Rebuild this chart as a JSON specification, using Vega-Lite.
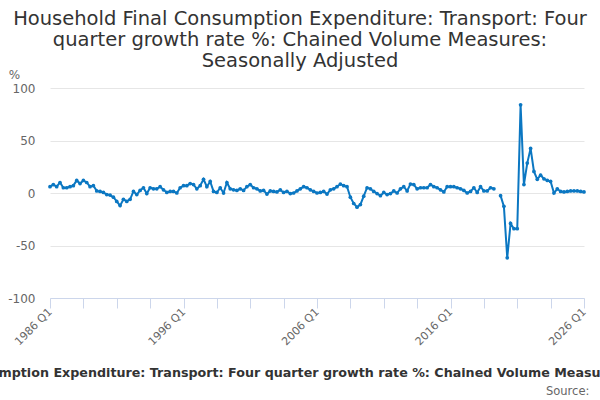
{
  "$schema": "https://vega.github.io/schema/vega-lite/v6.json",
  "width": 534,
  "height": 210,
  "autosize": {"type": "none"},
  "padding": {"left": 50, "top": 88, "right": 16, "bottom": 102},
  "background": "white",
  "title": {
    "text": [
      "Household Final Consumption Expenditure: Transport: Four",
      "quarter growth rate %: Chained Volume Measures:",
      "Seasonally Adjusted"
    ],
    "anchor": "middle",
    "frame": "group",
    "dx": -17,
    "fontSize": 19.5,
    "fontWeight": "normal",
    "color": "#333333",
    "lineHeight": 21,
    "offset": -3
  },
  "config": {
    "font": "DejaVu Sans",
    "view": {"stroke": "transparent"}
  },
  "data": {
    "values": [
      {"q": "1986 Q1", "v": 6}, {"q": "1986 Q2", "v": 8}, {"q": "1986 Q3", "v": 6}, {"q": "1986 Q4", "v": 10},
      {"q": "1987 Q1", "v": 5}, {"q": "1987 Q2", "v": 5}, {"q": "1987 Q3", "v": 6}, {"q": "1987 Q4", "v": 7},
      {"q": "1988 Q1", "v": 12}, {"q": "1988 Q2", "v": 9}, {"q": "1988 Q3", "v": 12}, {"q": "1988 Q4", "v": 10},
      {"q": "1989 Q1", "v": 6}, {"q": "1989 Q2", "v": 7}, {"q": "1989 Q3", "v": 2}, {"q": "1989 Q4", "v": 1.5},
      {"q": "1990 Q1", "v": 0.5}, {"q": "1990 Q2", "v": -1.5}, {"q": "1990 Q3", "v": -2}, {"q": "1990 Q4", "v": -4},
      {"q": "1991 Q1", "v": -8}, {"q": "1991 Q2", "v": -12}, {"q": "1991 Q3", "v": -6}, {"q": "1991 Q4", "v": -8},
      {"q": "1992 Q1", "v": -6}, {"q": "1992 Q2", "v": 1.5}, {"q": "1992 Q3", "v": -1.5}, {"q": "1992 Q4", "v": 2.5},
      {"q": "1993 Q1", "v": 5}, {"q": "1993 Q2", "v": -0.5}, {"q": "1993 Q3", "v": 5}, {"q": "1993 Q4", "v": 4},
      {"q": "1994 Q1", "v": 4}, {"q": "1994 Q2", "v": 6}, {"q": "1994 Q3", "v": 3}, {"q": "1994 Q4", "v": 0.5},
      {"q": "1995 Q1", "v": 1.5}, {"q": "1995 Q2", "v": 1.5}, {"q": "1995 Q3", "v": 0}, {"q": "1995 Q4", "v": 5},
      {"q": "1996 Q1", "v": 7}, {"q": "1996 Q2", "v": 7}, {"q": "1996 Q3", "v": 9}, {"q": "1996 Q4", "v": 8},
      {"q": "1997 Q1", "v": 4}, {"q": "1997 Q2", "v": 7}, {"q": "1997 Q3", "v": 13}, {"q": "1997 Q4", "v": 6},
      {"q": "1998 Q1", "v": 11}, {"q": "1998 Q2", "v": 1.5}, {"q": "1998 Q3", "v": 0.5}, {"q": "1998 Q4", "v": 5},
      {"q": "1999 Q1", "v": 0}, {"q": "1999 Q2", "v": 10}, {"q": "1999 Q3", "v": 4}, {"q": "1999 Q4", "v": 3},
      {"q": "2000 Q1", "v": 2.5}, {"q": "2000 Q2", "v": 4}, {"q": "2000 Q3", "v": 2.5}, {"q": "2000 Q4", "v": 6},
      {"q": "2001 Q1", "v": 8}, {"q": "2001 Q2", "v": 5}, {"q": "2001 Q3", "v": 4}, {"q": "2001 Q4", "v": 2},
      {"q": "2002 Q1", "v": 2.5}, {"q": "2002 Q2", "v": -1}, {"q": "2002 Q3", "v": 2}, {"q": "2002 Q4", "v": 1.5},
      {"q": "2003 Q1", "v": 1}, {"q": "2003 Q2", "v": 3}, {"q": "2003 Q3", "v": 0.5}, {"q": "2003 Q4", "v": 1.5},
      {"q": "2004 Q1", "v": -0.5}, {"q": "2004 Q2", "v": 0}, {"q": "2004 Q3", "v": 2}, {"q": "2004 Q4", "v": 4},
      {"q": "2005 Q1", "v": 6}, {"q": "2005 Q2", "v": 5}, {"q": "2005 Q3", "v": 3}, {"q": "2005 Q4", "v": 1.5},
      {"q": "2006 Q1", "v": 0}, {"q": "2006 Q2", "v": 0.5}, {"q": "2006 Q3", "v": 1.5}, {"q": "2006 Q4", "v": -1},
      {"q": "2007 Q1", "v": 3}, {"q": "2007 Q2", "v": 4}, {"q": "2007 Q3", "v": 6}, {"q": "2007 Q4", "v": 8.5},
      {"q": "2008 Q1", "v": 7}, {"q": "2008 Q2", "v": 6}, {"q": "2008 Q3", "v": -4}, {"q": "2008 Q4", "v": -10},
      {"q": "2009 Q1", "v": -13.5}, {"q": "2009 Q2", "v": -11}, {"q": "2009 Q3", "v": -3}, {"q": "2009 Q4", "v": 5},
      {"q": "2010 Q1", "v": 4}, {"q": "2010 Q2", "v": 1.5}, {"q": "2010 Q3", "v": -0.5}, {"q": "2010 Q4", "v": -2.5},
      {"q": "2011 Q1", "v": 0.5}, {"q": "2011 Q2", "v": -1.5}, {"q": "2011 Q3", "v": -0.5}, {"q": "2011 Q4", "v": 2},
      {"q": "2012 Q1", "v": 0}, {"q": "2012 Q2", "v": 4}, {"q": "2012 Q3", "v": 6}, {"q": "2012 Q4", "v": 2},
      {"q": "2013 Q1", "v": 8.5}, {"q": "2013 Q2", "v": 8}, {"q": "2013 Q3", "v": 4}, {"q": "2013 Q4", "v": 5},
      {"q": "2014 Q1", "v": 5}, {"q": "2014 Q2", "v": 5}, {"q": "2014 Q3", "v": 8}, {"q": "2014 Q4", "v": 6},
      {"q": "2015 Q1", "v": 5}, {"q": "2015 Q2", "v": 3}, {"q": "2015 Q3", "v": 1}, {"q": "2015 Q4", "v": 6},
      {"q": "2016 Q1", "v": 6}, {"q": "2016 Q2", "v": 6}, {"q": "2016 Q3", "v": 5}, {"q": "2016 Q4", "v": 4},
      {"q": "2017 Q1", "v": 2.5}, {"q": "2017 Q2", "v": 0}, {"q": "2017 Q3", "v": 1.5}, {"q": "2017 Q4", "v": 5},
      {"q": "2018 Q1", "v": 0.5}, {"q": "2018 Q2", "v": 6}, {"q": "2018 Q3", "v": 2}, {"q": "2018 Q4", "v": 2},
      {"q": "2019 Q1", "v": 5}, {"q": "2019 Q2", "v": 4}, {"q": "2019 Q3", "v": null}, {"q": "2019 Q4", "v": -2.5},
      {"q": "2020 Q1", "v": -12.7}, {"q": "2020 Q2", "v": -61.7}, {"q": "2020 Q3", "v": -29}, {"q": "2020 Q4", "v": -34},
      {"q": "2021 Q1", "v": -34}, {"q": "2021 Q2", "v": 84}, {"q": "2021 Q3", "v": 8}, {"q": "2021 Q4", "v": 28.5},
      {"q": "2022 Q1", "v": 42.5}, {"q": "2022 Q2", "v": 20.5}, {"q": "2022 Q3", "v": 13}, {"q": "2022 Q4", "v": 17},
      {"q": "2023 Q1", "v": 13.5}, {"q": "2023 Q2", "v": 12}, {"q": "2023 Q3", "v": 11}, {"q": "2023 Q4", "v": 0},
      {"q": "2024 Q1", "v": 4}, {"q": "2024 Q2", "v": 1.5}, {"q": "2024 Q3", "v": 1}, {"q": "2024 Q4", "v": 1.5},
      {"q": "2025 Q1", "v": 2}, {"q": "2025 Q2", "v": 2}, {"q": "2025 Q3", "v": 2}, {"q": "2025 Q4", "v": 1.5},
      {"q": "2026 Q1", "v": 1}
    ]
  },
  "mark": {
    "type": "line",
    "strokeWidth": 2,
    "invalid": "break-paths-filter-domains",
    "point": {"filled": true, "size": 14}
  },
  "encoding": {
    "x": {
      "field": "q",
      "type": "ordinal",
      "sort": null,
      "scale": {"type": "point", "padding": 0},
      "axis": {
        "values": ["1986 Q1", "1988 Q3", "1991 Q1", "1993 Q3", "1996 Q1", "1998 Q3", "2001 Q1", "2003 Q3", "2006 Q1", "2008 Q3", "2011 Q1", "2013 Q3", "2016 Q1", "2018 Q3", "2021 Q1", "2023 Q3", "2026 Q1"],
        "labelExpr": "substring(datum.value, 3) == '6 Q1' ? datum.value : ''",
        "labelAngle": -45,
        "labelAlign": "right",
        "labelBaseline": "middle",
        "labelFontSize": 11,
        "labelColor": "#666666",
        "labelOverlap": false,
        "labelPadding": 2,
        "grid": false,
        "domainColor": "#ccd6eb",
        "tickColor": "#ccd6eb",
        "tickSize": 10,
        "title": "Household Final Consumption Expenditure: Transport: Four quarter growth rate %: Chained Volume Measures: Seasonally Adjusted",
        "titleFontSize": 12.7,
        "titleFontWeight": "bold",
        "titleColor": "#333333",
        "titleLimit": 3000,
        "titleAnchor": "middle",
        "titleBaseline": "middle",
        "titleX": 256,
        "titleY": 74
      }
    },
    "y": {
      "field": "v",
      "type": "quantitative",
      "scale": {"domain": [-100, 100], "nice": false},
      "axis": {
        "values": [-100, -50, 0, 50, 100],
        "labelExpr": "datum.value + ''",
        "grid": true,
        "gridColor": "#e6e6e6",
        "domain": false,
        "ticks": false,
        "labelPadding": 15,
        "labelFontSize": 12,
        "labelColor": "#666666",
        "title": "%",
        "titleAngle": 0,
        "titleFontSize": 12,
        "titleFontWeight": "normal",
        "titleColor": "#666666",
        "titleAlign": "center",
        "titleBaseline": "middle",
        "titleX": -36,
        "titleY": -14
      }
    },
    "color": {
      "datum": "Household Final Consumption Expenditure: Transport: Four quarter growth rate %: Chained Volume Measures: Seasonally Adjusted",
      "type": "nominal",
      "scale": {"range": ["#0b77c2"]},
      "legend": {
        "orient": "none",
        "legendX": 496,
        "legendY": 298,
        "title": "Source:",
        "titleFontSize": 11.5,
        "titleFontWeight": "normal",
        "titleColor": "#666666",
        "labelExpr": "''",
        "symbolOpacity": 0,
        "symbolStrokeWidth": 0,
        "padding": 0
      }
    }
  }
}
